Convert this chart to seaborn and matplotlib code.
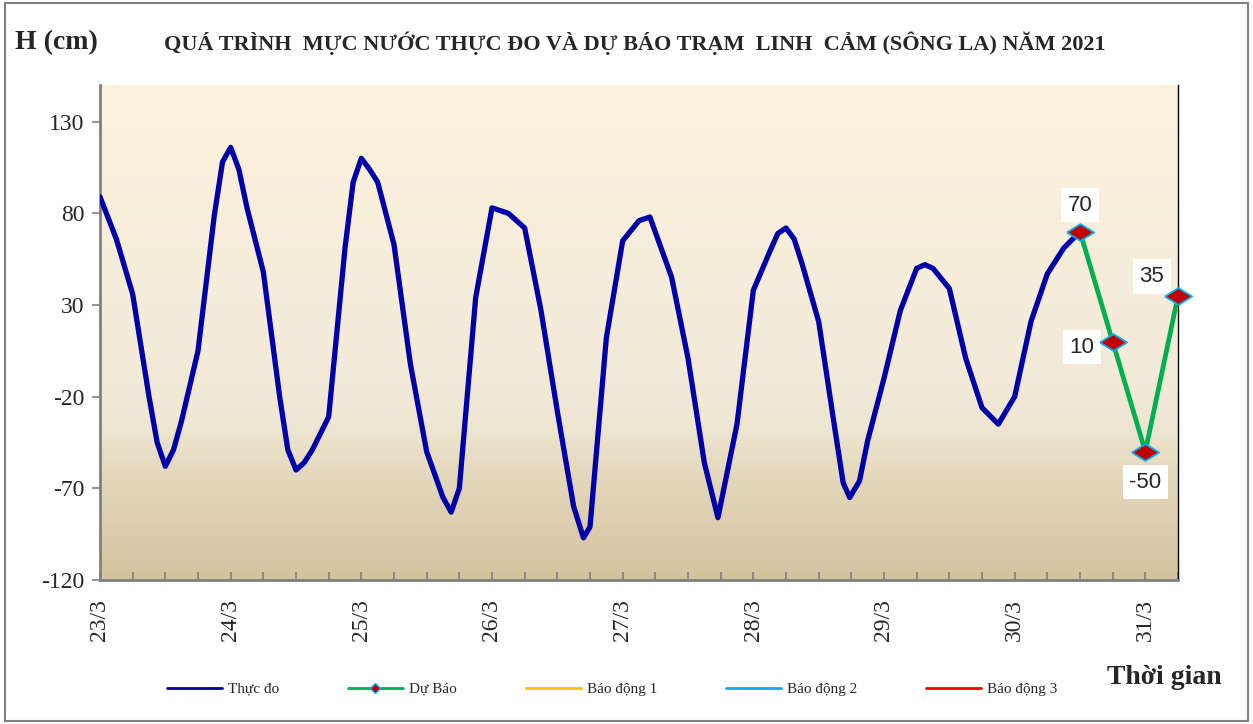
import numpy as np
import pandas as pd
import matplotlib
matplotlib.use("Agg")
import matplotlib.pyplot as plt
import seaborn as sns
from matplotlib.colors import LinearSegmentedColormap
from matplotlib.lines import Line2D
from matplotlib.patches import Rectangle

# ==========================================================
# Data (hours counted from 23/3 00h)
# ==========================================================

obs_hours = [0, 3, 6, 9, 10.5, 12, 13.5, 15, 18, 21, 22.5, 24, 25.5, 27, 30, 33,
             34.5, 36, 37.5, 39, 42, 45, 46.5, 48, 49.5, 51, 54, 57, 60, 63, 64.5,
             66, 69, 72, 75, 78, 81, 84, 87, 88.8, 90, 93, 96, 99, 101, 105, 108,
             111, 113.5, 117, 120, 123, 124.5, 126, 127.5, 129, 132, 135, 136.5,
             137.7, 139.5, 141, 144, 147, 150, 151.5, 153, 156, 159, 162, 165,
             168, 171, 174, 177, 180]
obs_levels = [89, 66, 36, -20, -45, -58, -49, -33, 5, 79, 108, 116, 104, 83, 48, -20,
              -49, -60, -56, -49, -31, 61, 97, 110, 104, 97, 63, -2, -50, -75, -83,
              -70, 34, 83, 80, 72, 27, -28, -80, -97, -91, 12, 65, 76, 78, 45, 1,
              -56, -86, -35, 38, 59, 69, 72, 66, 52, 21, -38, -67,
              -75, -66, -44, -10, 27, 50, 52, 50, 39, 1, -26, -35,
              -20, 21, 47, 61, 70]

fc_hours = [180, 186, 192, 198]
fc_levels = [70, 10, -50, 35]

day_labels = ["23/3", "24/3", "25/3", "26/3", "27/3", "28/3", "29/3", "30/3", "31/3"]
y_ticks = [-120, -70, -20, 30, 80, 130]

legend_labels = ["Thực đo", "Dự Báo", "Báo động 1", "Báo động 2", "Báo động 3"]

obs = pd.DataFrame({"gio": obs_hours, "H": obs_levels})
fc = pd.DataFrame({"gio": fc_hours, "H": fc_levels})

# ==========================================================
# Style
# ==========================================================

sns.set_style("ticks")
plt.rcParams["font.family"] = ["Liberation Serif", "DejaVu Serif"]

fig = plt.figure(figsize=(12.53, 7.24), dpi=100)
ax = fig.add_axes([100 / 1253, 1 - 580 / 724, 1078 / 1253, 495 / 724])

# gradient background
bg = LinearSegmentedColormap.from_list(
    "bg", [(0, "#FCF1DD"), (0.55, "#F3EBD8"), (0.68, "#EFE7D3"),
           (0.8, "#E3D7BA"), (1.0, "#D3C29E")])
grad = np.linspace(0, 1, 256).reshape(-1, 1)
ax.imshow(grad, cmap=bg, extent=[0, 1, 0, 1], transform=ax.transAxes,
          aspect="auto", zorder=0)

# observed line
sns.lineplot(data=obs, x="gio", y="H", ax=ax, color="#0000AA", linewidth=3.8,
             solid_joinstyle="round", solid_capstyle="round", zorder=3,
             legend=False)

# forecast line with diamond markers
diamond = [(-1, 0), (0, 0.62), (1, 0), (0, -0.62), (-1, 0)]
sns.lineplot(data=fc, x="gio", y="H", ax=ax, color="#00B050", linewidth=3.4,
             solid_joinstyle="round", zorder=4, legend=False, clip_on=False)
sns.scatterplot(data=fc, x="gio", y="H", ax=ax, marker=diamond, s=380,
                color="#C00000", edgecolor="#00B0F0", linewidth=1.3,
                zorder=6, legend=False, clip_on=False)

# value labels for forecast
offsets = [(0, 19), (-22, -4), (0, -22), (-19, 14)]
for h, v, off in zip(fc_hours, fc_levels, offsets):
    ax.annotate(str(v), (h, v), xytext=off, textcoords="offset points",
                ha="center", va="center", fontsize=16,
                family=["Liberation Sans", "DejaVu Sans"],
                bbox=dict(boxstyle="square,pad=0.3", fc="white", ec="none"),
                zorder=5)

# ==========================================================
# Axes
# ==========================================================

ax.set_xlim(0, 198)
ax.set_ylim(-120, 150)
ax.set_xlabel("")
ax.set_ylabel("")

ticks = np.arange(0, 199, 6)
ax.set_xticks(ticks)
ax.set_xticklabels([day_labels[int(t // 24)] if t % 24 == 0 else "" for t in ticks],
                   rotation=90, fontsize=17)
ax.tick_params(axis="x", direction="in", length=6, width=1.2, color="#808080",
               pad=14)
ax.set_yticks(y_ticks)
ax.set_yticklabels([str(t) for t in y_ticks], fontsize=17)
ax.tick_params(axis="y", direction="out", length=6, width=1.2, color="#808080",
               pad=5)

for s in ["left", "bottom"]:
    ax.spines[s].set_color("#808080")
    ax.spines[s].set_linewidth(2)
ax.spines["top"].set_visible(False)
ax.spines["right"].set_color("black")
ax.spines["right"].set_linewidth(1)

# ==========================================================
# Texts
# ==========================================================

fig.text(15 / 1253, 1 - 43 / 724, "H (cm)", fontsize=20, fontweight="bold",
         va="center", ha="left")
fig.text(635 / 1253, 1 - 43 / 724,
         "QUÁ TRÌNH  MỰC NƯỚC THỰC ĐO VÀ DỰ BÁO TRẠM  LINH  CẢM (SÔNG LA) NĂM 2021",
         fontsize=16, fontweight="bold", va="center", ha="center")
fig.text(1222 / 1253, 1 - 678 / 724, "Thời gian", fontsize=20, fontweight="bold",
         va="center", ha="right")

# legend
handles = [
    Line2D([], [], color="#0000AA", lw=2),
    Line2D([], [], color="#00B050", lw=2, marker="D", markersize=5,
           markerfacecolor="#C00000", markeredgecolor="#00B0F0"),
    Line2D([], [], color="#FFC000", lw=2),
    Line2D([], [], color="#00B0F0", lw=2),
    Line2D([], [], color="#FF0000", lw=2),
]
fig.legend(handles, legend_labels, loc="center", bbox_to_anchor=(612 / 1253, 1 - 689 / 724),
           ncol=5, frameon=False, fontsize=11, handlelength=3.6,
           handletextpad=0.4, columnspacing=4.5)

# outer border
fig.patches.append(Rectangle((0.004, 0.004), 0.992, 0.992, transform=fig.transFigure,
                             fill=False, edgecolor="#808080", linewidth=1.5))

plt.savefig("out.png", dpi=100)
